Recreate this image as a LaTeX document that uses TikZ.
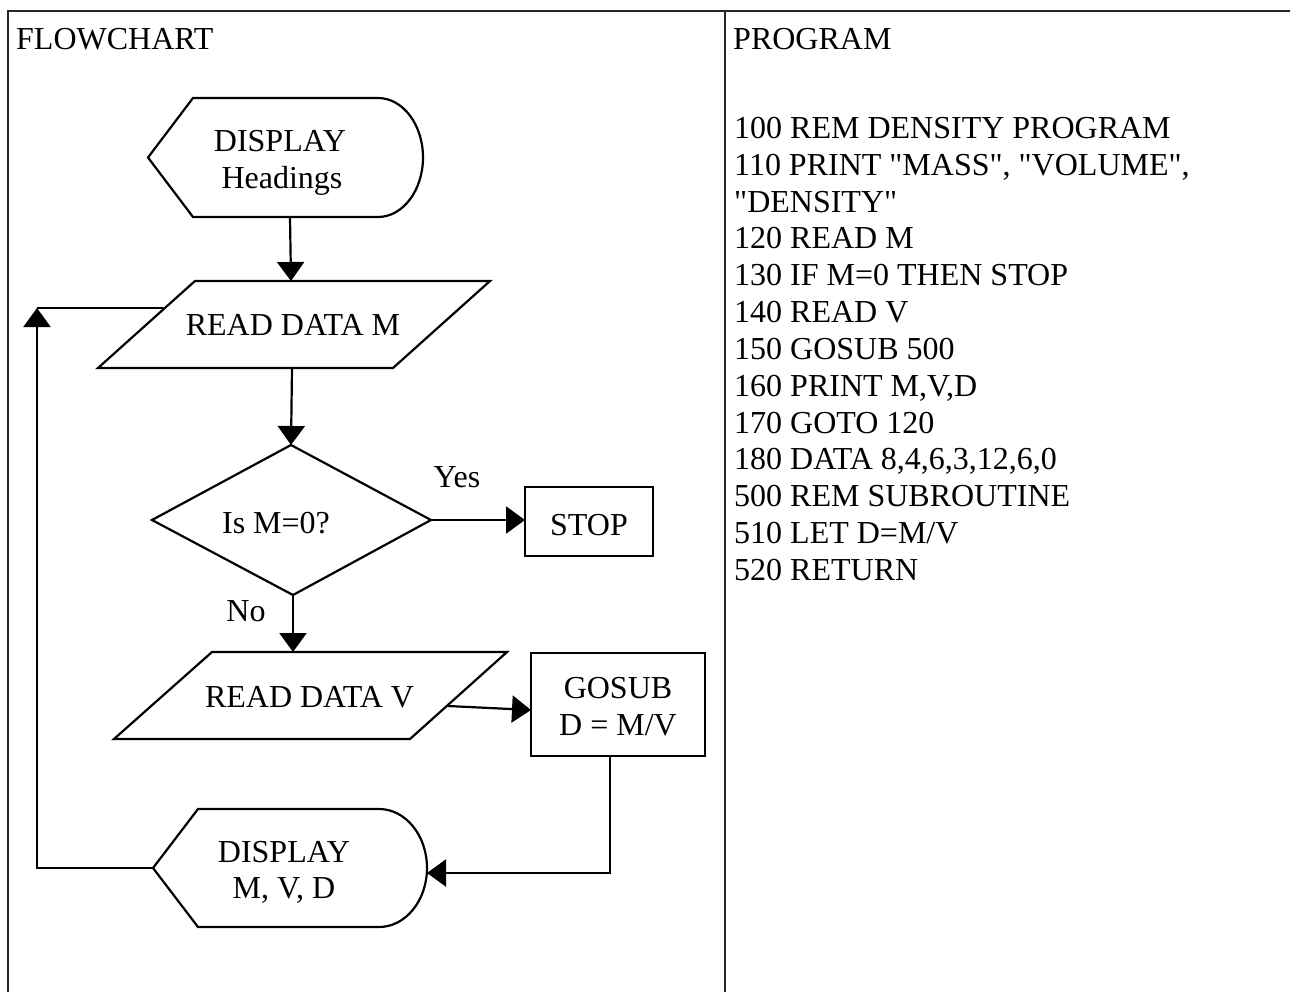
\documentclass[tikz,border=0pt]{standalone}
\usepackage{fontspec}
\setmainfont{Liberation Serif}[Ligatures=TeXOff]
\usetikzlibrary{arrows.meta}

\begin{document}
\begin{tikzpicture}[x=1pt,y=-1pt,
  every node/.style={inner sep=0pt, font=\fontsize{32}{36.8}\selectfont},
  txt/.style={anchor=base},
  txtl/.style={anchor=base west},
  shapeline/.style={line width=2.2pt, line join=miter},
  conn/.style={line width=2.2pt},
  arr/.style={conn, -{Triangle[length=19pt,width=27pt]}},
  frameline/.style={line width=1.3pt, draw=black!85}]

\useasboundingbox (0,0) rectangle (1290,992);

% table frame
\draw[frameline] (8,992) -- (8,11) -- (1290,11);
\draw[frameline] (725,11) -- (725,992);

% column headings
\node[txtl] (hflow) at (16,50) {FLOWCHART};
\node[txtl] (hprog) at (733,50) {PROGRAM};

% program listing
\foreach \t [count=\i from 0] in {%
  {100 REM DENSITY PROGRAM},
  {110 PRINT "MASS", "VOLUME",},
  {"DENSITY"},
  {120 READ M},
  {130 IF M=0 THEN STOP},
  {140 READ V},
  {150 GOSUB 500},
  {160 PRINT M,V,D},
  {170 GOTO 120},
  {180 DATA 8,4,6,3,12,6,0},
  {500 REM SUBROUTINE},
  {510 LET D=M/V},
  {520 RETURN}}
  \node[txtl] (p\i) at (734,{138.5+36.83*\i}) {\t};

% ---- flowchart shapes ----
% display headings
\draw[shapeline] (148,157.5) -- (193,98) -- (378,98)
  arc[start angle=-90, end angle=90, x radius=45, y radius=59.5]
  -- (193,217) -- cycle;
\node[txt] (dh1) at (280,152) {DISPLAY};
\node[txt] (dh2) at (282,189) {Headings};
\coordinate (dh-out) at (290,217);

% read data M
\draw[shapeline] (195,281) -- (490,281) -- (393,368) -- (98,368) -- cycle;
\node[txt] (rdm) at (293,335) {READ DATA M};
\coordinate (rdm-in) at (291,281);
\coordinate (rdm-out) at (292,368);
\coordinate (rdm-left) at (165,308);

% decision
\draw[shapeline] (291,445) -- (431,520) -- (293,595) -- (152,520) -- cycle;
\node[txt] (dec) at (276,533) {Is M=0?};
\coordinate (dec-top) at (291,445);
\coordinate (dec-right) at (431,520);
\coordinate (dec-bottom) at (293,595);
\node[txt] (yes) at (457,487) {Yes};
\node[txt] (no) at (246,621) {No};

% stop
\draw[shapeline] (525,487) rectangle (653,556);
\node[txt] (stop) at (589,535) {STOP};
\coordinate (stop-in) at (525,520);

% read data V
\draw[shapeline] (212,652) -- (507,652) -- (410,739) -- (114,739) -- cycle;
\node[txt] (rdv) at (309.5,707) {READ DATA V};
\coordinate (rdv-in) at (293,652);
\coordinate (rdv-out) at (448,706);

% subroutine
\draw[shapeline] (531,653) rectangle (705,756);
\node[txt] (gs1) at (618,698) {GOSUB};
\node[txt] (gs2) at (618,735) {D = M/V};
\coordinate (gs-in) at (531,710);
\coordinate (gs-out) at (610,756);

% display results
\draw[shapeline] (153,868) -- (198,809) -- (379,809)
  arc[start angle=-90, end angle=90, x radius=48, y radius=59]
  -- (198,927) -- cycle;
\node[txt] (dr1) at (284,862) {DISPLAY};
\node[txt] (dr2) at (284,898) {M, V, D};
\coordinate (dr-in) at (427,873);
\coordinate (dr-out) at (153,868);

% loop return corner
\coordinate (loop) at (37,308);

% ---- connectors ----
\draw[arr] (dh-out) -- (rdm-in);
\draw[arr] (rdm-out) -- (dec-top);
\draw[arr] (dec-right) -- (stop-in);
\draw[arr] (dec-bottom) -- (rdv-in);
\draw[arr] (rdv-out) -- (gs-in);
\draw[arr] (gs-out) |- (dr-in);
\draw[arr] (dr-out) -| (loop);
\draw[conn] (loop) -- (rdm-left);

\end{tikzpicture}
\end{document}
